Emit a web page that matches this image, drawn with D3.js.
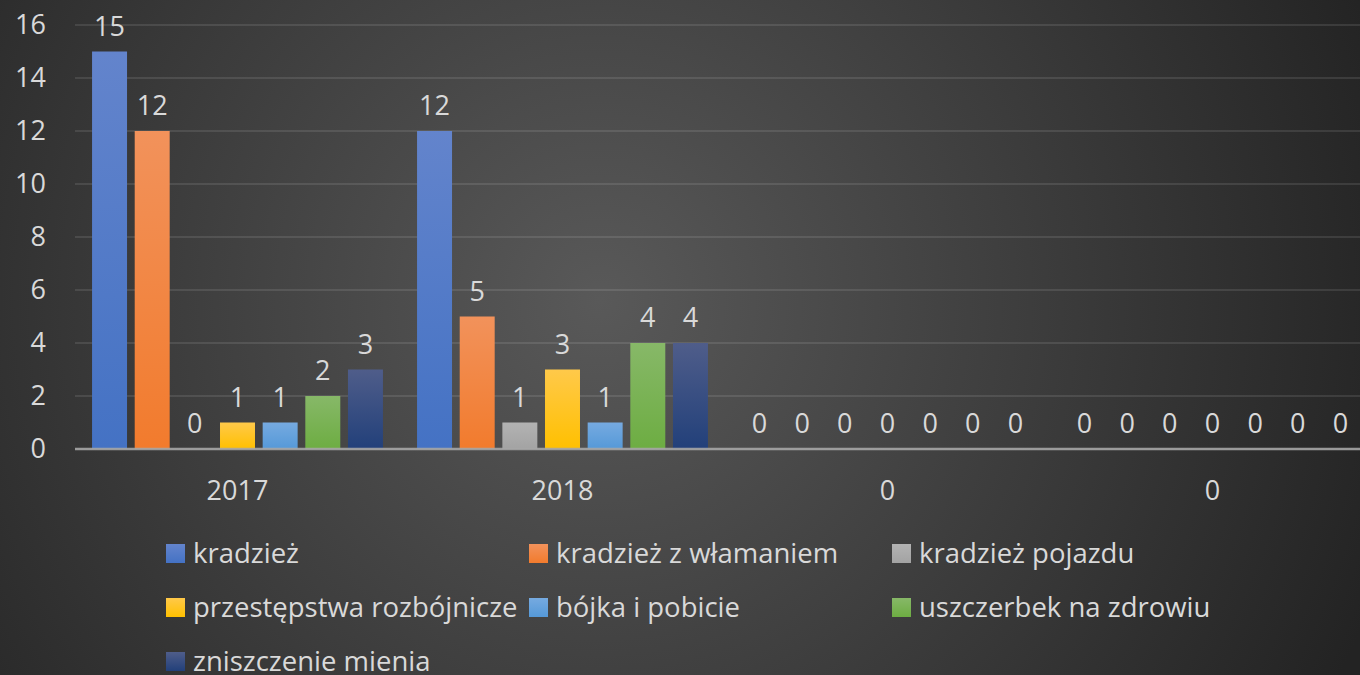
<!DOCTYPE html>
<html>
<head>
<meta charset="utf-8">
<script src="https://cdn.jsdelivr.net/npm/d3@7"></script>
<style>
  html, body { margin: 0; padding: 0; background: #2b2b2b; overflow: hidden; }
  svg { display: block; font-family: "Open Sans", sans-serif; }
</style>
</head>
<body>
<svg id="chart" width="1360" height="675"></svg>
<script>
// years on the x axis (the last two are empty categories shown as "0")
var groups = ["2017", "2018", "0", "0 "];
var series = ["kradzież", "kradzież z włamaniem", "kradzież pojazdu", "przestępstwa rozbójnicze", "bójka i pobicie", "uszczerbek na zdrowiu", "zniszczenie mienia"];
var values = [
  [15, 12, 0, 1, 1, 2, 3],
  [12, 5, 1, 3, 1, 4, 4],
  [0, 0, 0, 0, 0, 0, 0],
  [0, 0, 0, 0, 0, 0, 0]
];
var yTicks = [0, 2, 4, 6, 8, 10, 12, 14, 16];

var colors = [
  ["#6384cc", "#4472c4"],
  ["#f2925b", "#f27b2d"],
  ["#b3b3b3", "#a3a3a3"],
  ["#ffc94a", "#ffc000"],
  ["#76aae0", "#5599d8"],
  ["#87b868", "#6dad42"],
  ["#4f5d8a", "#22407a"]
];

var svg = d3.select("#chart");
var W = 1360, H = 675;
var textCol = "#d9d9d9";

var defs = svg.append("defs");
var bg = defs.append("radialGradient").attr("id", "bg")
  .attr("gradientUnits", "userSpaceOnUse")
  .attr("cx", 600).attr("cy", 300).attr("r", 830);
bg.append("stop").attr("offset", "0").attr("stop-color", "#595959");
bg.append("stop").attr("offset", "1").attr("stop-color", "#232323");

colors.forEach(function(c, i){
  var g = defs.append("linearGradient").attr("id", "bar" + i)
    .attr("x1", 0).attr("y1", 0).attr("x2", 0).attr("y2", 1);
  g.append("stop").attr("offset", "0").attr("stop-color", c[0]);
  g.append("stop").attr("offset", "1").attr("stop-color", c[1]);
});

svg.append("rect").attr("width", W).attr("height", H).attr("fill", "url(#bg)");

var left = 75, groupW = 325;
var x0 = d3.scaleBand().domain(groups).range([left, left + groupW * groups.length]).padding(0);
var x1 = d3.scaleBand().domain(d3.range(series.length)).range([0, groupW])
  .paddingInner(0.18).paddingOuter(0.4);
var y = d3.scaleLinear().domain([0, 16]).range([449, 25]);

// gridlines
svg.append("g").selectAll("line").data(yTicks.slice(1)).join("line")
  .attr("x1", left).attr("x2", W)
  .attr("y1", function(d){ return y(d); }).attr("y2", function(d){ return y(d); })
  .attr("stroke", "#ffffff").attr("stroke-opacity", 0.1).attr("stroke-width", 2);

// y labels
svg.append("g").selectAll("text").data(yTicks).join("text")
  .attr("x", 46).attr("y", function(d){ return y(d); })
  .attr("dy", "0.35em")
  .attr("text-anchor", "end")
  .attr("fill", textCol).attr("font-size", 27)
  .text(function(d){ return d; });

// bars
var gg = svg.append("g").selectAll("g").data(values).join("g")
  .attr("transform", function(d, i){ return "translate(" + x0(groups[i]) + ",0)"; });

gg.selectAll("rect").data(function(d){ return d; }).join("rect")
  .attr("x", function(d, i){ return x1(i); })
  .attr("width", x1.bandwidth())
  .attr("y", function(d){ return y(d); })
  .attr("height", function(d){ return y(0) - y(d); })
  .attr("fill", function(d, i){ return "url(#bar" + i + ")"; });

gg.selectAll("text").data(function(d){ return d; }).join("text")
  .attr("x", function(d, i){ return x1(i) + x1.bandwidth() / 2; })
  .attr("y", function(d){ return y(d) - 16; })
  .attr("text-anchor", "middle")
  .attr("fill", textCol).attr("font-size", 27)
  .text(function(d){ return d; });

// x axis line
svg.append("line").attr("x1", left).attr("x2", W)
  .attr("y1", y(0)).attr("y2", y(0))
  .attr("stroke", "#a6a6a6").attr("stroke-opacity", 0.9).attr("stroke-width", 2.5);

// x labels
svg.append("g").selectAll("text").data(groups).join("text")
  .attr("x", function(d){ return x0(d) + groupW / 2; })
  .attr("y", 500)
  .attr("text-anchor", "middle")
  .attr("fill", textCol).attr("font-size", 27)
  .text(function(d){ return d.trim(); });

// legend
var legend = svg.append("g").selectAll("g").data(series).join("g")
  .attr("transform", function(d, i){
    return "translate(" + (166 + (i % 3) * 363) + "," + (544 + Math.floor(i / 3) * 54) + ")";
  });
legend.append("rect").attr("width", 19).attr("height", 19)
  .attr("fill", function(d, i){ return "url(#bar" + i + ")"; });
legend.append("text").attr("x", 27).attr("y", 19)
  .attr("fill", textCol).attr("font-size", 27.5)
  .text(function(d){ return d; });
</script>
</body>
</html>
